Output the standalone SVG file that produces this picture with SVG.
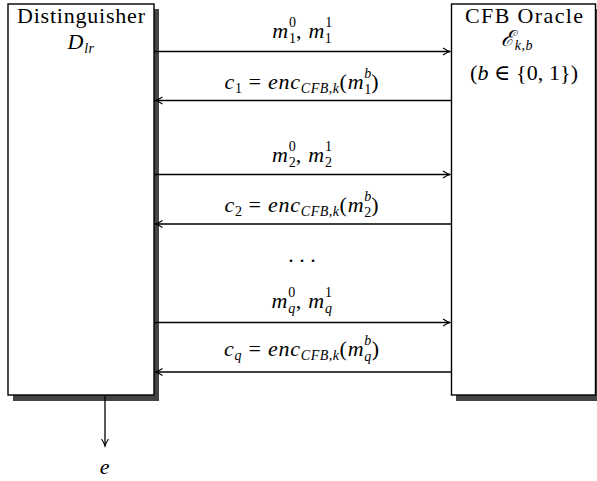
<svg xmlns="http://www.w3.org/2000/svg" width="597" height="481" viewBox="0 0 597 481">
<style>
text{font-family:"Liberation Serif","DejaVu Serif",serif;fill:#000}
.t{font-size:22px}
.m{font-size:22px;font-style:italic;letter-spacing:0.8px}
.sc{font-size:14px;font-style:normal;letter-spacing:0}
.si{font-size:14px;font-style:italic;letter-spacing:0.5px}
.rm{font-style:normal}
.box{fill:#fff;stroke:#000;stroke-width:1.4}
.sh{fill:#444}
.ar{stroke:#000;stroke-width:1.3;fill:none;marker-end:url(#ah)}
</style>
<defs>
<marker id="ah" viewBox="-8 -5 10 10" refX="0" refY="0" markerWidth="10" markerHeight="10" markerUnits="userSpaceOnUse" orient="auto">
<path d="M-7,-3.5 Q-3,-0.8 0,0 Q-3,0.8 -7,3.5" fill="none" stroke="#000" stroke-width="1.1"/>
</marker>
</defs>
<g id="distinguisher">
<rect class="sh" x="13" y="9" width="146" height="392"/>
<rect class="box" x="8" y="4" width="146" height="391"/>
<text class="t" x="81" y="23" text-anchor="middle" textLength="128" lengthAdjust="spacing">Distinguisher</text>
<text class="m" x="81" y="49" text-anchor="middle">D<tspan class="si" dy="4">lr</tspan></text>
</g>
<g id="oracle">
<rect class="sh" x="456" y="9" width="150" height="392"/>
<rect class="box" x="451.5" y="4" width="144" height="391"/>
<text class="t" x="524" y="23" text-anchor="middle" textLength="118" lengthAdjust="spacing">CFB Oracle</text>
<text class="m" x="517" y="46" text-anchor="middle">ℰ<tspan class="si" dy="4">k,b</tspan></text>
<text class="t" x="524" y="80" text-anchor="middle" textLength="108" lengthAdjust="spacing">(<tspan font-style="italic">b</tspan> ∈ {0, 1})</text>
</g>
<g id="connectors">
<line class="ar" x1="154.5" y1="51.5" x2="450" y2="51.5"/>
<line class="ar" x1="451" y1="100.5" x2="155.5" y2="100.5"/>
<line class="ar" x1="154.5" y1="174.5" x2="450" y2="174.5"/>
<line class="ar" x1="451" y1="224" x2="155.5" y2="224"/>
<line class="ar" x1="154.5" y1="322.5" x2="450" y2="322.5"/>
<line class="ar" x1="451" y1="372" x2="155.5" y2="372"/>
<line class="ar" x1="105" y1="396" x2="105" y2="446"/>
</g>
<g id="labels">
<text class="m" x="302" y="38" text-anchor="middle">m<tspan class="sc" dy="-11">0</tspan><tspan class="sc" dx="-7" dy="16">1</tspan><tspan class="rm" dy="-5">, </tspan>m<tspan class="sc" dy="-11">1</tspan><tspan class="sc" dx="-7" dy="16">1</tspan></text>
<text class="m" x="302" y="89" text-anchor="middle">c<tspan class="sc" dy="4">1</tspan><tspan class="rm" dy="-4"> = </tspan>enc<tspan class="si" dy="4">CFB,k</tspan><tspan class="rm" dy="-4">(</tspan>m<tspan class="si" dy="-11">b</tspan><tspan class="sc" dx="-7.5" dy="16">1</tspan><tspan class="rm" dy="-5">)</tspan></text>
<text class="m" x="302" y="162" text-anchor="middle">m<tspan class="sc" dy="-11">0</tspan><tspan class="sc" dx="-7" dy="16">2</tspan><tspan class="rm" dy="-5">, </tspan>m<tspan class="sc" dy="-11">1</tspan><tspan class="sc" dx="-7" dy="16">2</tspan></text>
<text class="m" x="302" y="212" text-anchor="middle">c<tspan class="sc" dy="4">2</tspan><tspan class="rm" dy="-4"> = </tspan>enc<tspan class="si" dy="4">CFB,k</tspan><tspan class="rm" dy="-4">(</tspan>m<tspan class="si" dy="-11">b</tspan><tspan class="sc" dx="-7.5" dy="16">2</tspan><tspan class="rm" dy="-5">)</tspan></text>
<text class="t" x="302" y="262" text-anchor="middle">. . .</text>
<text class="m" x="302" y="308" text-anchor="middle">m<tspan class="sc" dy="-11">0</tspan><tspan class="si" dx="-7" dy="16">q</tspan><tspan class="rm" dy="-5">, </tspan>m<tspan class="sc" dy="-11">1</tspan><tspan class="si" dx="-7" dy="16">q</tspan></text>
<text class="m" x="302" y="356" text-anchor="middle">c<tspan class="si" dy="4">q</tspan><tspan class="rm" dy="-4"> = </tspan>enc<tspan class="si" dy="4">CFB,k</tspan><tspan class="rm" dy="-4">(</tspan>m<tspan class="si" dy="-11">b</tspan><tspan class="si" dx="-7.5" dy="16">q</tspan><tspan class="rm" dy="-5">)</tspan></text>
<text class="m" x="105" y="474" text-anchor="middle">e</text>
</g>
</svg>
